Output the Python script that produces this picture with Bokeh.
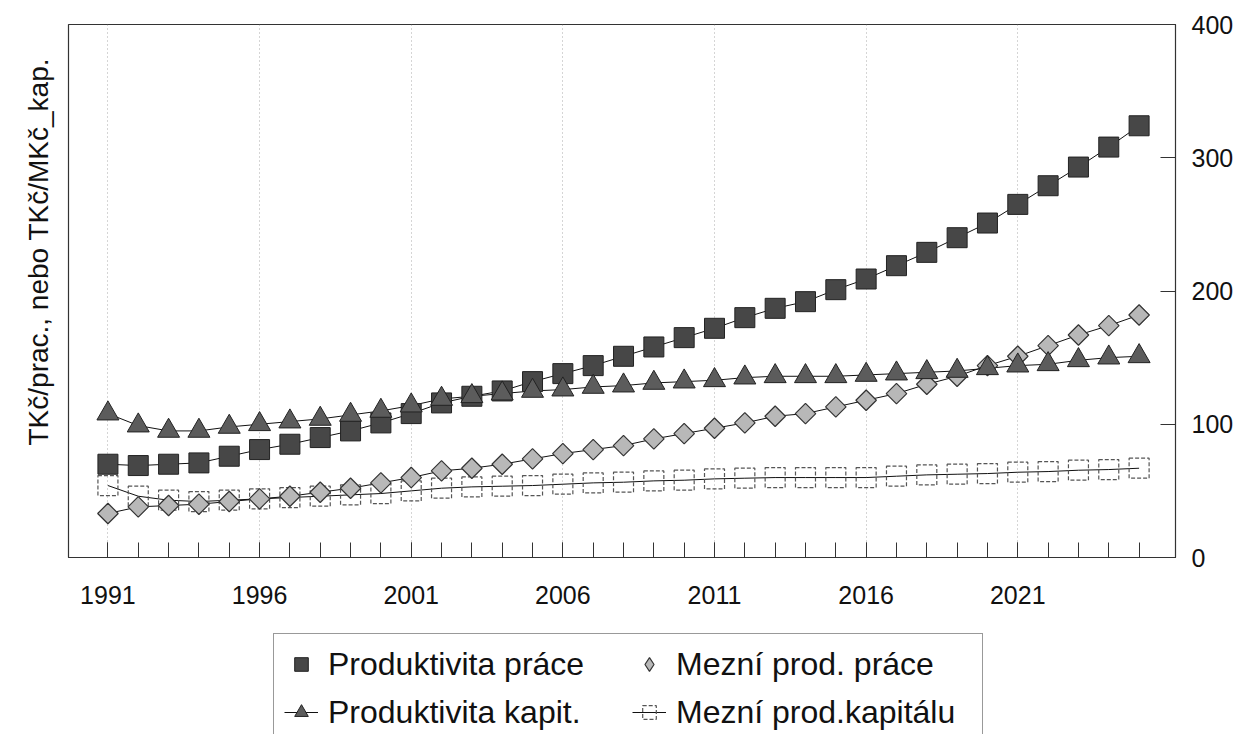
import numpy as np
from bokeh.plotting import figure
from bokeh.layouts import column
from bokeh.models import (Range1d, FixedTicker, Legend, LegendItem, Title)
from bokeh.embed import file_html
from bokeh.resources import INLINE

# ---------------- data ----------------
years = list(range(1991, 2026))
prod_prace = [70, 69, 70, 71, 76, 81, 85, 90, 95, 101, 108, 116, 121, 125, 132,
              138, 144, 151, 158, 165, 172, 180, 187, 192, 201, 209, 219, 229,
              240, 251, 265, 279, 293, 308, 324]
prod_kapit = [108, 99, 95, 95, 98, 100, 102, 104, 107, 110, 114, 119, 121, 123,
              125, 126, 128, 129, 131, 132, 133, 135, 136, 136, 136, 137, 138,
              139, 140, 142, 144, 145, 148, 150, 151]
mezni_prace = [33, 38, 39, 40, 42, 44, 46, 49, 52, 56, 60, 65, 67, 70, 74, 78,
               81, 84, 89, 93, 97, 101, 106, 108, 113, 118, 123, 130, 136, 144,
               151, 159, 167, 174, 182]
mezni_kapital = [54, 46, 43, 42, 43, 44, 45, 46, 47, 48, 50, 52, 53, 53.5, 54,
                 55, 56, 56.5, 57.5, 58, 59, 59.5, 60, 60, 60, 60, 61, 62, 62.5,
                 63, 64, 64.5, 65.5, 66, 67]
x_tick_years = [1991, 1996, 2001, 2006, 2011, 2016, 2021]
y_ticks = [0, 100, 200, 300, 400]
y_label = "TKč/prac., nebo TKč/MKč_kap."
legend_labels = ["Produktivita práce", "Produktivita kapit.",
                 "Mezní prod. práce", "Mezní prod.kapitálu"]

FONT = "Liberation Sans"

p = figure(width=1241, height=620, output_backend="svg", toolbar_location=None,
           x_range=Range1d(1989.7, 2026.2), y_range=Range1d(0, 400),
           y_axis_location="right",
           min_border_left=68, min_border_top=24, min_border_right=66,
           min_border_bottom=63)
p.background_fill_color = "white"
p.border_fill_color = "white"
p.outline_line_color = "#333333"
p.outline_line_width = 1.2

# x axis
xa = p.xaxis[0]
xa.ticker = FixedTicker(ticks=x_tick_years, minor_ticks=years)
xa.major_tick_in = 15
xa.major_tick_out = 0
xa.minor_tick_in = 15
xa.minor_tick_out = 0
xa.major_tick_line_color = "#333333"
xa.minor_tick_line_color = "#333333"
xa.axis_line_color = "#333333"
xa.major_label_text_font = FONT
xa.major_label_text_font_size = "25px"
xa.major_label_text_color = "#111111"
xa.major_label_standoff = 28

# right y axis with values
ya = p.yaxis[0]
ya.ticker = FixedTicker(ticks=y_ticks, minor_ticks=[])
ya.major_tick_in = 15
ya.major_tick_out = 0
ya.major_tick_line_color = "#333333"
ya.axis_line_color = "#333333"
ya.major_label_text_font = FONT
ya.major_label_text_font_size = "25px"
ya.major_label_text_color = "#111111"
ya.major_label_standoff = 16

p.ygrid.grid_line_color = None
p.xgrid.grid_line_color = "#888888"
p.xgrid.grid_line_dash = "1 3"
p.xgrid.grid_line_alpha = 0.7

# vertical title on the left
p.add_layout(Title(text=y_label, align="left", offset=112, standoff=30,
                   text_font_size="28px", text_font=FONT,
                   text_font_style="normal", text_color="#111111"), "left")

# lines
LN = dict(line_color="#111111", line_width=1)
p.line(years, prod_prace, **LN)
p.line(years, prod_kapit, **LN)
p.line(years, mezni_prace, **LN)
p.line(years, mezni_kapital, **LN)

# markers
SQ = dict(marker="square", size=20, fill_color="#474747",
          line_color="#222222", line_width=1)
HS = dict(marker="square", size=20, fill_color=None, line_color="#555555",
          line_width=1.2, line_dash="4 2")
DI = dict(marker="square", angle=np.pi / 4, size=14.5, fill_color="#b8b8b8",
          line_color="#333333", line_width=1.2)
TR = dict(marker="triangle", size=22, fill_color="#5c5c5c",
          line_color="#222222", line_width=1)

p.scatter(years, prod_prace, **SQ)
p.scatter(years, mezni_kapital, **HS)
p.scatter(years, mezni_prace, **DI)
p.scatter(years, prod_kapit, **TR)

# ---------------- legend panel ----------------
# (its renderers hold the series but lie outside this panel's ranges,
#  so only the legend entries are visible)
lp = figure(width=1241, height=114, output_backend="svg", toolbar_location=None,
            x_range=Range1d(0, 1), y_range=Range1d(0, 1),
            x_axis_location=None, y_axis_location=None,
            min_border_left=0, min_border_right=0,
            min_border_top=0, min_border_bottom=0)
lp.grid.visible = False
lp.outline_line_color = None
lp.background_fill_color = "white"
lp.border_fill_color = "white"

SQ_L = dict(SQ, size=16)
TR_L = dict(TR, size=18)
DI_L = dict(marker="diamond", size=22, fill_color="#b8b8b8",
            line_color="#333333", line_width=1.2)
HS_L = dict(HS, size=17)

items = []
for lab, ser, mk, with_line in zip(
        legend_labels,
        [prod_prace, prod_kapit, mezni_prace, mezni_kapital],
        [SQ_L, TR_L, DI_L, HS_L],
        [False, True, False, True]):
    rends = []
    if with_line:
        rends.append(lp.line(years, ser, **LN))
    rends.append(lp.scatter(years, ser, **mk))
    items.append(LegendItem(label=lab, renderers=rends))

legend = Legend(items=items, ncols=2, location=(205, -9))
legend.label_text_font = FONT
legend.label_text_font_size = "32px"
legend.label_text_color = "#111111"
legend.glyph_width = 34
legend.glyph_height = 40
legend.label_standoff = 10
legend.label_width = 296
legend.padding = 10
legend.spacing = 8
legend.margin = 0
legend.border_line_color = "#333333"
legend.border_line_width = 1.5
legend.background_fill_color = "white"
lp.add_layout(legend, "center")

layout = column(p, lp, spacing=0)
open("out.html", "w").write(file_html(layout, INLINE))
